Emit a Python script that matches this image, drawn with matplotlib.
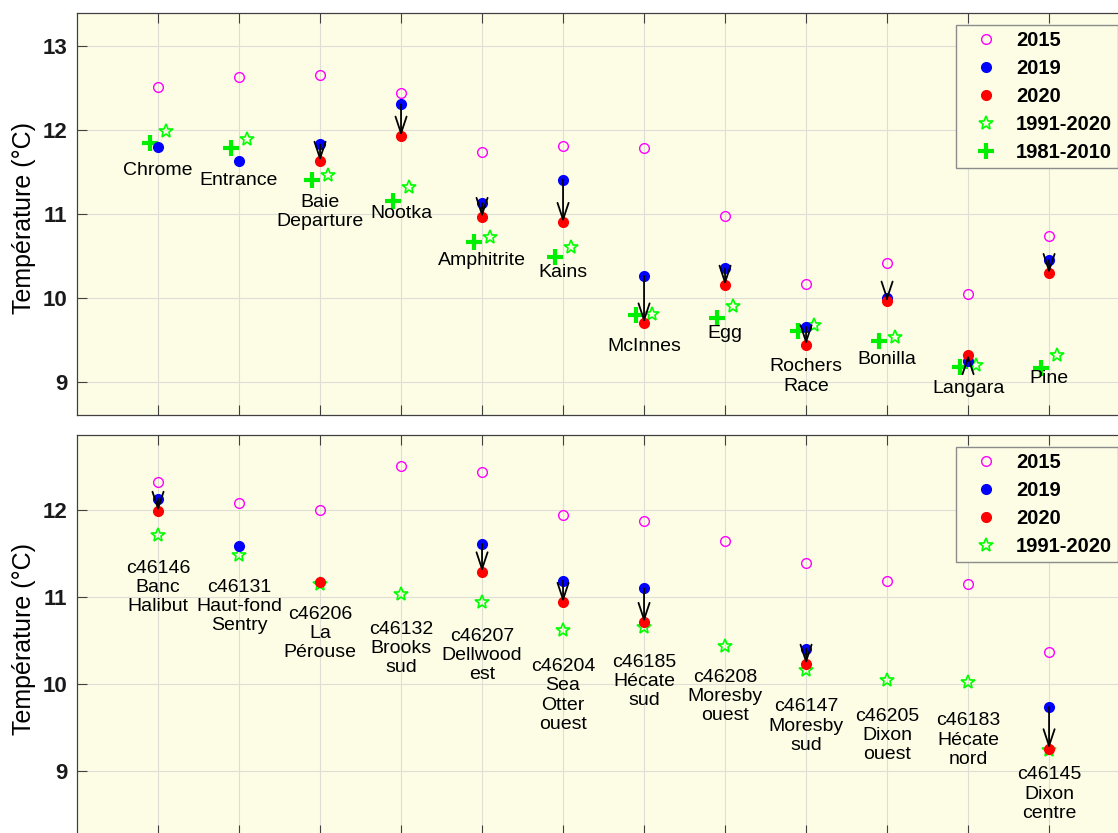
import numpy as np
import matplotlib
matplotlib.use('Agg')
import matplotlib.pyplot as plt

plt.rcParams['font.family'] = ['Liberation Sans', 'DejaVu Sans']

nan = np.nan

# Stations côtières (panneau du haut)
top_names = ['Chrome', 'Entrance', 'Baie\nDeparture', 'Nootka', 'Amphitrite', 'Kains',
             'McInnes', 'Egg', 'Rochers\nRace', 'Bonilla', 'Langara', 'Pine']
top_2015 = [12.52, 12.64, 12.66, 12.44, 11.74, 11.81, 11.79, 10.98, 10.16, 10.42, 10.04, 10.74]
top_2019 = [11.80, 11.63, 11.83, 12.31, 11.13, 11.41, 10.26, 10.35, 9.65, 10.00, 9.25, 10.45]
top_2020 = [nan, nan, 11.63, 11.93, 10.96, 10.90, 9.70, 10.15, 9.44, 9.96, 9.32, 10.29]
top_9120 = [11.99, 11.90, 11.47, 11.32, 10.72, 10.60, 9.81, 9.90, 9.67, 9.53, 9.20, 9.32]
top_8110 = [11.85, 11.79, 11.40, 11.15, 10.67, 10.49, 9.79, 9.76, 9.60, 9.48, 9.17, 9.16]
top_label_y = [11.52, 11.40, 11.02, 11.01, 10.45, 10.30, 9.42, 9.57, 9.06, 9.26, 8.92, 9.04]

# Bouées (panneau du bas)
bot_names = ['c46146\nBanc\nHalibut', 'c46131\nHaut-fond\nSentry', 'c46206\nLa\nPérouse',
             'c46132\nBrooks\nsud', 'c46207\nDellwood\nest', 'c46204\nSea\nOtter\nouest',
             'c46185\nHécate\nsud', 'c46208\nMoresby\nouest', 'c46147\nMoresby\nsud',
             'c46205\nDixon\nouest', 'c46183\nHécate\nnord', 'c46145\nDixon\ncentre']
bot_2015 = [12.32, 12.08, 12.00, 12.50, 12.44, 11.94, 11.87, 11.64, 11.39, 11.18, 11.15, 10.37]
bot_2019 = [12.13, 11.59, nan, nan, 11.61, 11.19, 11.10, nan, 10.41, nan, nan, 9.74]
bot_2020 = [11.985, nan, 11.17, nan, 11.29, 10.94, 10.71, nan, 10.23, nan, nan, 9.26]
bot_9120 = [11.71, 11.48, 11.15, 11.03, 10.94, 10.62, 10.66, 10.44, 10.16, 10.05, 10.03, 9.25]
bot_label_y = [11.11, 10.89, 10.58, 10.41, 10.33, 9.87, 10.03, 9.86, 9.52, 9.41, 9.36, 8.74]

bg = '#fdfde6'
spine_col = '#404040'


def draw_panel(ax, names, label_y, v2015, v2019, v2020, v9120, v8110=None, ylim=None):
    x = np.arange(1, len(names) + 1)
    v2015, v2019, v2020, v9120 = map(np.asarray, (v2015, v2019, v2020, v9120))
    off = 0.1 if v8110 is not None else 0.0

    ax.set_facecolor(bg)
    h_star, = ax.plot(x + off, v9120, ls='none', marker='*', ms=10, mfc='none',
                      mec='#00ff00', mew=1.2, label='1991-2020', zorder=3)
    h_plus = None
    if v8110 is not None:
        h_plus, = ax.plot(x - off, v8110, ls='none', marker='+', ms=12, mec='#00ee00',
                          mew=3, label='1981-2010', zorder=3)
    h15, = ax.plot(x, v2015, ls='none', marker='o', ms=7, mfc='none', mec='#ff00ff',
                   mew=1, label='2015', zorder=4)
    h19, = ax.plot(x, v2019, ls='none', marker='o', ms=7, mfc='#0000ff', mec='#0000ff',
                   label='2019', zorder=4)
    h20, = ax.plot(x, v2020, ls='none', marker='o', ms=7, mfc='#ff0000', mec='#ff0000',
                   label='2020', zorder=4)

    # flèches 2019 -> 2020
    for xi, a, b in zip(x, v2019, v2020):
        if np.isnan(a) or np.isnan(b):
            continue
        ax.annotate('', xy=(xi, b), xytext=(xi, a),
                    arrowprops=dict(arrowstyle='->,head_length=1.2,head_width=0.4',
                                    color='k', lw=1.3, shrinkA=0, shrinkB=0,
                                    mutation_scale=10),
                    zorder=6)

    for xi, name, ly in zip(x, names, label_y):
        ax.text(xi, ly, name, ha='center', va='center', fontsize=14,
                linespacing=1.17, zorder=5)

    ax.set_xticks(x)
    ax.set_yticks([9, 10, 11, 12, 13])
    ax.set_xlim(0, len(names) + 1)
    ax.set_ylim(*ylim)
    ax.tick_params(direction='in', length=7, width=0.8, color=spine_col,
                   top=True, right=True, labelbottom=False, labelsize=16, pad=7)
    for lab in ax.get_yticklabels():
        lab.set_fontweight('bold')
        lab.set_color('#1a1a1a')
    ax.grid(True, color='#deded4', lw=0.8)
    ax.set_axisbelow(True)
    for sp in ax.spines.values():
        sp.set_color(spine_col)
        sp.set_linewidth(0.9)

    ax.set_ylabel('Température (°C)', fontsize=18)
    ax.yaxis.set_label_coords(-0.039, 0.49)

    handles = [h15, h19, h20, h_star] + ([h_plus] if h_plus is not None else [])
    leg = ax.legend(handles=handles, loc='upper right', numpoints=1,
                    prop={'weight': 'bold', 'size': 14.5}, frameon=True, fancybox=False,
                    framealpha=1, facecolor=bg, edgecolor='#8c8c8c',
                    borderpad=0.3, labelspacing=0.45, handlelength=2.3,
                    handletextpad=0.35, borderaxespad=0.6)
    leg.get_frame().set_linewidth(1.0)


fig = plt.figure(figsize=(11.18, 8.33), dpi=100)
ax1 = fig.add_axes([0.0689, 0.5018, 0.9419, 0.4826])
ax2 = fig.add_axes([0.0689, -0.0024, 0.9419, 0.4802])

draw_panel(ax1, top_names, top_label_y, top_2015, top_2019, top_2020, top_9120,
           top_8110, ylim=(8.6, 13.4))
draw_panel(ax2, bot_names, bot_label_y, bot_2015, bot_2019, bot_2020, bot_9120,
           ylim=(8.27, 12.86))

fig.savefig('out.png', dpi=100)
